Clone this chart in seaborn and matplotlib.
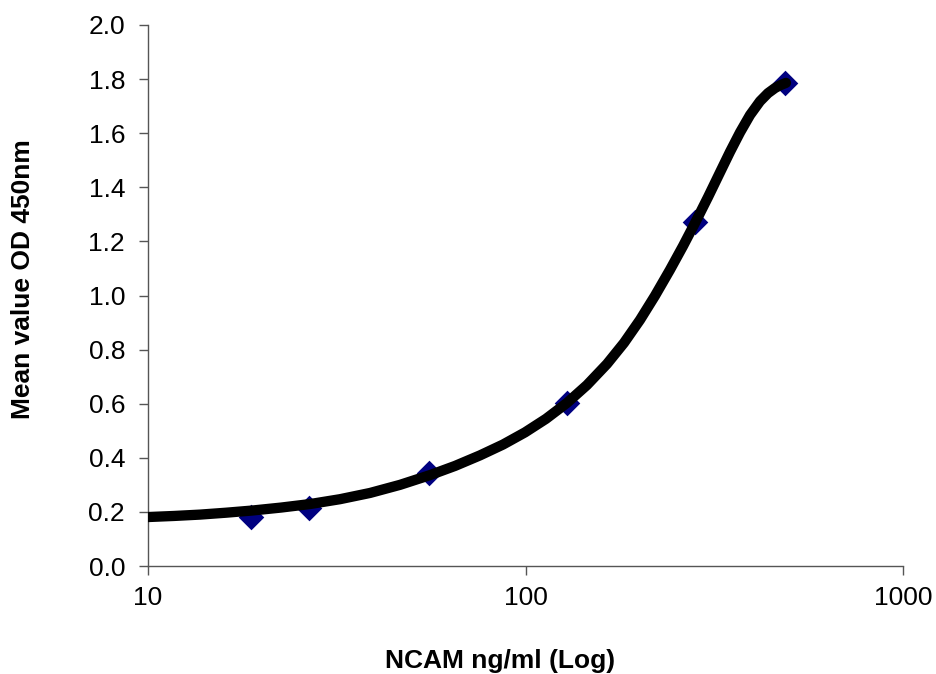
import matplotlib
matplotlib.use("Agg")
import matplotlib.pyplot as plt
import seaborn as sns
import pandas as pd
from matplotlib.ticker import FixedLocator, FixedFormatter, NullLocator

# Measured standards (diamonds)
conc = [18.8, 26.7, 55.5, 128.5, 281.0, 486.0]
od = [0.182, 0.213, 0.343, 0.601, 1.273, 1.787]

# Fitted curve
fit_conc = [10.0, 11.72, 13.73, 16.09, 18.86, 22.51, 26.86, 32.26, 38.73,
            46.51, 55.85, 65.07, 75.77, 87.18, 99.7, 113.3, 128.8, 145.5,
            164.4, 182.4, 201.1, 220.3, 241.4, 261.4, 281.2, 304.5, 327.5,
            348.1, 370.1, 393.3, 418.0, 438.9, 458.1, 472.3, 489.8]
fit_od = [0.181, 0.185, 0.190, 0.197, 0.205, 0.216, 0.229, 0.247, 0.270,
          0.300, 0.336, 0.370, 0.409, 0.449, 0.494, 0.544, 0.603, 0.669,
          0.747, 0.825, 0.910, 0.999, 1.095, 1.183, 1.268, 1.364, 1.455,
          1.531, 1.603, 1.667, 1.718, 1.748, 1.767, 1.777, 1.786]

x_ticks = [10, 100, 1000]
x_tick_labels = ["10", "100", "1000"]
y_ticks = [0.0, 0.2, 0.4, 0.6, 0.8, 1.0, 1.2, 1.4, 1.6, 1.8, 2.0]

sns.set_theme(style="ticks")
plt.rcParams["font.family"] = ["Liberation Sans", "DejaVu Sans"]

fig = plt.figure(figsize=(9.36, 6.74), dpi=100)
ax = fig.add_axes([148 / 936, 1 - 566 / 674, 755 / 936, 541 / 674])
ax.set_xscale("log")

pts = pd.DataFrame({"conc": conc, "od": od})
fit = pd.DataFrame({"conc": fit_conc, "od": fit_od})

sns.scatterplot(data=pts, x="conc", y="od", marker="D", s=170, color="#000080",
                linewidth=0, ax=ax, zorder=2)
sns.lineplot(data=fit, x="conc", y="od", color="black", linewidth=7.4,
             sort=False, estimator=None, ax=ax, zorder=3,
             solid_capstyle="round", solid_joinstyle="round")

ax.set_xlim(10, 1000)
ax.set_ylim(0, 2.0)
ax.xaxis.set_major_locator(FixedLocator(x_ticks))
ax.xaxis.set_major_formatter(FixedFormatter(x_tick_labels))
ax.xaxis.set_minor_locator(NullLocator())
ax.set_yticks(y_ticks)
ax.set_yticklabels([f"{v:.1f}" for v in y_ticks])

axis_color = "#555555"
for side in ["top", "right"]:
    ax.spines[side].set_visible(False)
for side in ["left", "bottom"]:
    ax.spines[side].set_color(axis_color)
    ax.spines[side].set_linewidth(1.0)
ax.tick_params(axis="both", which="major", direction="out", length=6.5,
               width=1.0, color=axis_color, labelsize=19, labelcolor="black")
ax.tick_params(axis="y", pad=10)
ax.tick_params(axis="x", pad=8)

ax.set_xlabel("NCAM ng/ml (Log)", fontsize=19, fontweight="bold", color="black")
ax.set_ylabel("Mean value OD 450nm", fontsize=19, fontweight="bold", color="black")
ax.xaxis.set_label_coords(0.466, -0.153)
ax.yaxis.set_label_coords(-0.15, 0.53)

fig.savefig("out.png", dpi=100)
